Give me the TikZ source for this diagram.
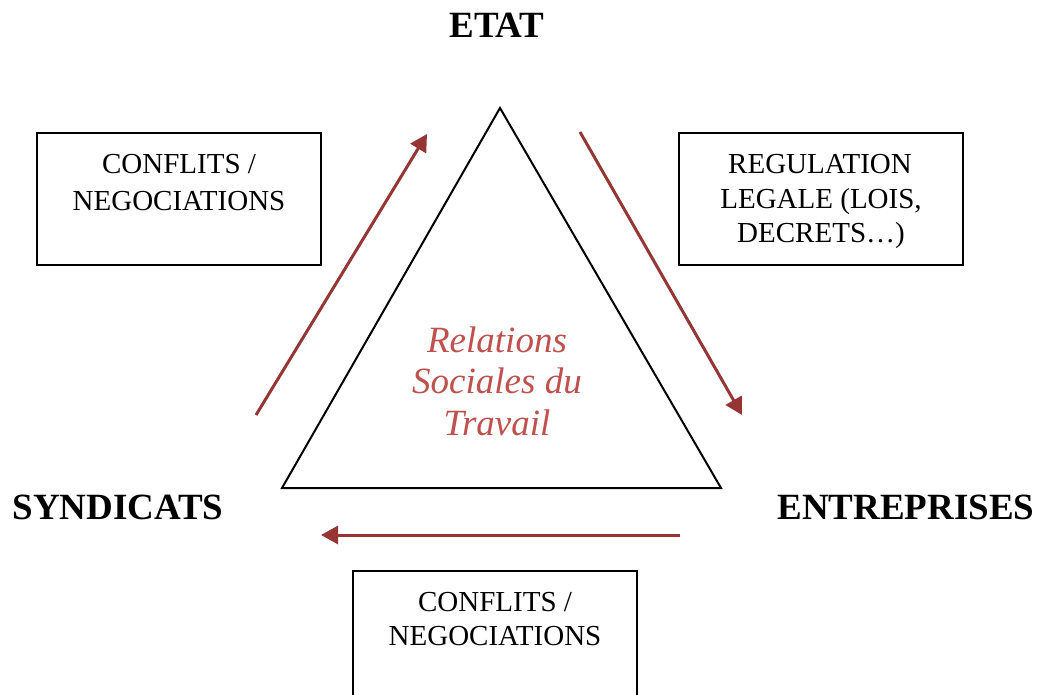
\documentclass[tikz,border=0pt]{standalone}
\usepackage{fontspec}
\setmainfont{Liberation Serif}
\usetikzlibrary{arrows.meta}
\definecolor{arrowred}{RGB}{150,54,52}
\definecolor{textred}{RGB}{192,80,77}
\tikzset{
  actor/.style={anchor=base, inner sep=0pt, font=\fontsize{37}{44}\selectfont\bfseries},
  boxtext/.style={anchor=base, inner sep=0pt, font=\fontsize{29}{35}\selectfont},
  centertext/.style={anchor=base, inner sep=0pt, text=textred, font=\fontsize{37}{44}\selectfont\itshape},
  infobox/.style={draw=black, line width=2pt},
  flow/.style={draw=arrowred, line width=3pt, -{Triangle[length=17pt,width=18pt]}},
  tri/.style={draw=black, line width=2pt, line join=miter}
}
\begin{document}
\begin{tikzpicture}[x=1pt,y=-1pt]
\clip (0,0) rectangle (1040,695);
\fill[white] (0,0) rectangle (1040,695);

% actors
\node[actor] (etat) at (497,38) {ETAT};
\node[actor] (synd) at (118,519) {SYNDICATS};
\node[actor] (entr) at (906,519) {ENTREPRISES};

% triangle
\coordinate (apex) at (500,108);
\coordinate (bl) at (282,488);
\coordinate (br) at (721,488);
\draw[tri] (apex) -- (bl) -- (br) -- cycle;

% centre text
\node[centertext] (rel1) at (497,352) {Relations};
\node[centertext] (rel2) at (497,393) {Sociales du};
\node[centertext] (rel3) at (497,435) {Travail};

% boxes
\coordinate (tlA) at (37,133); \coordinate (tlB) at (321,265);
\coordinate (trA) at (679,133); \coordinate (trB) at (963,265);
\coordinate (bA) at (353,571); \coordinate (bB) at (637,730);
\draw[infobox] (tlA) rectangle (tlB);
\draw[infobox] (trA) rectangle (trB);
\draw[infobox] (bA) rectangle (bB);

\node[boxtext] (tl1) at (179,173) {CONFLITS /};
\node[boxtext] (tl2) at (179,210) {NEGOCIATIONS};

\node[boxtext] (tr1) at (820,173) {REGULATION};
\node[boxtext] (tr2) at (821,208) {LEGALE (LOIS,};
\node[boxtext] (tr3) at (821,242) {DECRETS…)};

\node[boxtext] (b1) at (495,611) {CONFLITS /};
\node[boxtext] (b2) at (495,645) {NEGOCIATIONS};

% arrows
\coordinate (l0) at (256,415); \coordinate (l1) at (427,134);
\coordinate (r0) at (580,132); \coordinate (r1) at (742,415);
\coordinate (d0) at (680,535); \coordinate (d1) at (321,535);
\draw[flow] (l0) -- (l1);
\draw[flow] (r0) -- (r1);
\draw[flow] (d0) -- (d1);
\end{tikzpicture}
\end{document}
